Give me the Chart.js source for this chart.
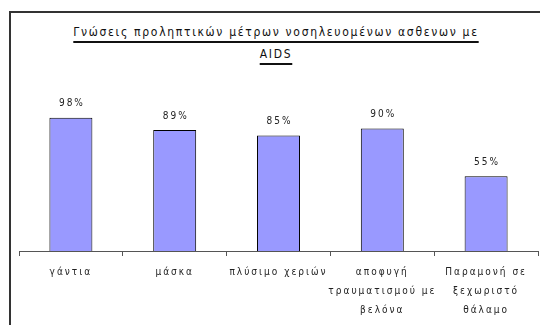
<!DOCTYPE html>
<html>
<head>
<meta charset="utf-8">
<script src="https://cdn.jsdelivr.net/npm/chart.js@4/dist/chart.umd.min.js"></script>
<style>
  html, body { margin: 0; padding: 0; background: #fff; overflow: hidden; }
  #wrap { position: relative; width: 540px; height: 325px; }
  #frame {
    position: absolute; left: 9px; top: 11px; width: 560px; height: 340px;
    border-left: 2px solid #333; border-top: 2px solid #333;
  }
  #title {
    position: absolute; left: 0; top: 21px; width: 552px; text-align: center;
    font-family: 'Liberation Sans Narrow', 'DejaVu Sans Condensed', sans-serif;
    font-size: 12px; letter-spacing: 1.7px; line-height: 22px; color: #111;
    text-decoration: underline; text-decoration-thickness: 2px; text-underline-offset: 5px;
  }
  canvas { position: absolute; left: 0; top: 0; }
</style>
</head>
<body>
<div id="wrap">
  <div id="frame"></div>
  <div id="title">Γνώσεις προληπτικών μέτρων νοσηλευομένων ασθενων με<br>AIDS</div>
  <canvas id="chart" width="540" height="325"></canvas>
</div>
<script>
// ─── Daten ──────────────────────────────────────────────────────────────────

const categories = [
  'γάντια',
  'μάσκα',
  'πλύσιμο χεριών',
  ['αποφυγή', 'τραυματισμού με', 'βελόνα'],
  ['Παραμονή σε', 'ξεχωριστό', 'θάλαμο'],
];
const percentages = [98, 89, 85, 90, 55];

const FONT = "'Liberation Sans Narrow', 'DejaVu Sans Condensed', sans-serif";

// ─── Plugins ────────────────────────────────────────────────────────────────

// Canvas-Text mit Sperrung (wird bei Resize zurückgesetzt, daher jedes Mal setzen)
const spacing = {
  id: 'spacing',
  beforeUpdate(chart) { chart.ctx.letterSpacing = '2px'; },
  beforeDraw(chart) { chart.ctx.letterSpacing = '2px'; },
};

// Prozentwerte über den Balken
const valueLabels = {
  id: 'valueLabels',
  afterDatasetsDraw(chart) {
    const ctx = chart.ctx;
    const meta = chart.getDatasetMeta(0);
    ctx.save();
    ctx.letterSpacing = '2px';
    ctx.font = `10px ${FONT}`;
    ctx.fillStyle = '#222';
    ctx.textAlign = 'center';
    ctx.textBaseline = 'middle';
    meta.data.forEach((bar, i) => {
      ctx.fillText(percentages[i] + '%', bar.x + 1, bar.y - 14);
    });
    ctx.restore();
  },
};

// ─── Chart ──────────────────────────────────────────────────────────────────

new Chart(document.getElementById('chart'), {
  type: 'bar',
  data: {
    labels: categories,
    datasets: [{
      data: percentages,
      backgroundColor: '#9999ff',
      borderColor: '#000',
      borderWidth: 1,
      barPercentage: 0.414,
      categoryPercentage: 1,
    }],
  },
  options: {
    responsive: false,
    animation: false,
    layout: { padding: { left: 19, right: 2, top: 115, bottom: 0 } },
    plugins: { legend: { display: false }, tooltip: { enabled: false } },
    scales: {
      x: {
        afterFit(scale) { scale.height = 74; },
        border: { display: true, color: '#555', width: 1 },
        grid: { display: true, offset: true, drawOnChartArea: false, color: '#555', tickLength: 5 },
        ticks: {
          color: '#222', font: { family: FONT, size: 10, lineHeight: 1.9 },
          padding: 7, maxRotation: 0, autoSkip: false,
        },
      },
      y: { display: false, min: 0, max: 100 },
    },
  },
  plugins: [spacing, valueLabels],
});
</script>
</body>
</html>
